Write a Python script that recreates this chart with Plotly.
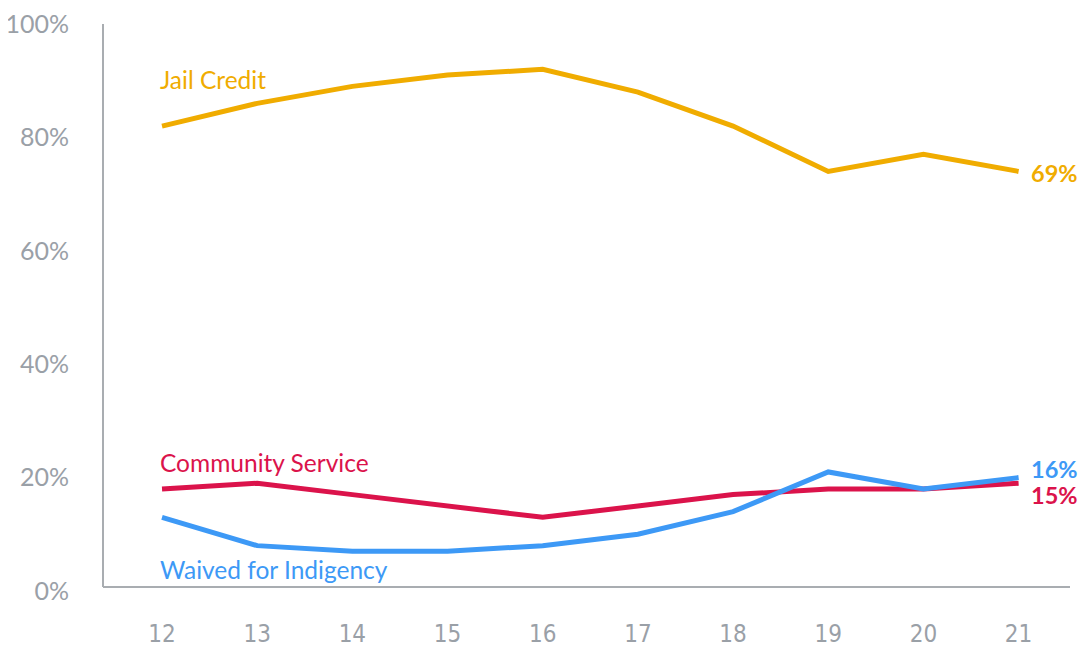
import plotly.graph_objects as go

# Data
years = [12, 13, 14, 15, 16, 17, 18, 19, 20, 21]
jail_credit = [82, 86, 89, 91, 92, 88, 82, 74, 77, 74]
community_service = [18, 19, 17, 15, 13, 15, 17, 18, 18, 19]
waived_indigency = [13, 8, 7, 7, 8, 10, 14, 21, 18, 20]
y_ticks = [0, 20, 40, 60, 80, 100]
end_labels = ["69%", "15%", "16%"]

YELLOW = "#F0AC00"
RED = "#DB134B"
BLUE = "#3D99F6"
GRAY = "#9AA0A7"
AXIS = "#A9ADB1"

fig = go.Figure()

series = [
    ("Jail Credit", jail_credit, YELLOW),
    ("Community Service", community_service, RED),
    ("Waived for Indigency", waived_indigency, BLUE),
]
for name, vals, color in series:
    fig.add_trace(go.Scatter(x=years, y=vals, mode="lines", name=name,
                             line=dict(color=color, width=5), hoverinfo="x+y"))

# Series name labels placed inside the plot (pixel shifts from the first point)
name_pos = [(jail_credit[0], "Jail Credit", YELLOW, 47),
            (community_service[0], "Community Service", RED, 26),
            (waived_indigency[0], "Waived for Indigency", BLUE, -52)]
for y, text, color, ys in name_pos:
    fig.add_annotation(x=years[0], y=y, text=text, showarrow=False,
                       xanchor="left", yanchor="middle", xshift=-4, yshift=ys,
                       font=dict(family="Lato", size=24.5, color=color))

# End-of-line value labels
end_pos = [(jail_credit[-1], end_labels[0], YELLOW, -2),
           (community_service[-1], end_labels[1], RED, -12),
           (waived_indigency[-1], end_labels[2], BLUE, 9)]
for y, text, color, ys in end_pos:
    fig.add_annotation(x=years[-1], y=y, text="<b>%s</b>" % text, showarrow=False,
                       xanchor="left", yanchor="middle", xshift=10, yshift=ys,
                       font=dict(family="Lato", size=23.5, color=color))

# axis lines sit a few pixels above the zero level in the original
fig.add_shape(type="line", xref="paper", x0=0, x1=1, yref="y", ysizemode="pixel",
              yanchor=0, y0=4, y1=4, line=dict(color=AXIS, width=2))
fig.add_shape(type="line", xref="paper", x0=0, x1=0, yref="y", ysizemode="pixel",
              yanchor=0, y0=4, y1=570, line=dict(color=AXIS, width=2))

# page body has an 8px default margin, so the margins are shifted by that amount
fig.update_layout(
    width=1090, height=648,
    margin=dict(l=95, r=28, t=16, b=65, autoexpand=False),
    plot_bgcolor="white", paper_bgcolor="white",
    showlegend=False,
    xaxis=dict(range=[11.38, 21.54], tickvals=years, ticktext=[str(v) for v in years],
               showgrid=False, zeroline=False, showline=False,
               ticks="", ticklabelstandoff=26, ticklabeloverflow="allow",
               tickfont=dict(family="DejaVu Sans Condensed, Liberation Sans Narrow, Roboto, sans-serif",
                             size=24, color=GRAY)),
    yaxis=dict(range=[0, 100], tickvals=y_ticks, ticktext=["%d%%" % v for v in y_ticks],
               showgrid=False, zeroline=False, showline=False,
               ticks="", ticklabelstandoff=33, ticklabeloverflow="allow",
               tickfont=dict(family="Lato", size=25, color=GRAY)),
)

fig.write_html("out.html")
